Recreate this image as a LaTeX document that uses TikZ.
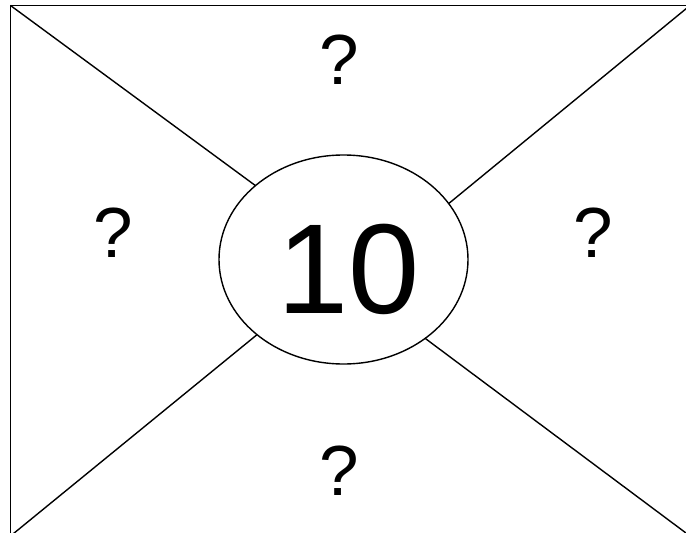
\documentclass[tikz,border=0pt]{standalone}
\usepackage{fontspec}
\setmainfont{Liberation Sans}
\usepackage{tikz}
\usetikzlibrary{shapes.geometric,positioning}
\tikzset{
  frameline/.style={line width=1.6pt, draw=black},
  spoke/.style={line width=1.4pt, draw=black},
  hub/.style={ellipse, draw=black, line width=1.4pt, fill=white, inner sep=0pt, outer sep=0pt,
        minimum width=249pt, minimum height=209pt},
  qmark/.style={inner sep=0pt, font=\fontsize{71}{85}\selectfont},
  bignum/.style={inner sep=0pt, font=\fontsize{128}{150}\selectfont},
}
\begin{document}
\begin{tikzpicture}[x=1pt, y=-1pt]
  \useasboundingbox (0,0) rectangle (686,533);
  \clip (0,0) rectangle (686,533);
  % outer frame and its corners
  \coordinate (tl) at (10.5,5.5);
  \coordinate (tr) at (690,5.5);
  \coordinate (bl) at (10.5,536);
  \coordinate (br) at (690,536);
  \draw[frameline] (tl) rectangle (br);
  % centre ellipse
  \node[hub] (ell) at (343.5,259.5) {};
  \node[bignum] (ten) at (348.5,269) {10};
  % spokes from corners to ellipse
  \draw[spoke] (tl) -- (ell.140.7);
  \draw[spoke] (tr) -- (ell.28.4);
  \draw[spoke] (bl) -- (ell.221.1);
  \draw[spoke] (br) -- (ell.316.1);
  % question marks in the four triangles
  \node[qmark] (qtop)   at (339,60)  {?};
  \node[qmark] (qleft)  at (113,233) {?};
  \node[qmark] (qright) at (593,233) {?};
  \node[qmark] (qbot)   at (339,471) {?};
\end{tikzpicture}
\end{document}
